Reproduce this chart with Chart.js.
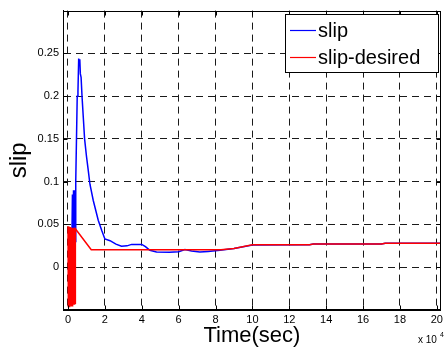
<!DOCTYPE html>
<html>
<head>
<meta charset="utf-8">
<script src="https://cdn.jsdelivr.net/npm/chart.js@4/dist/chart.umd.min.js"></script>
<style>
  html, body { margin: 0; padding: 0; background: #fff; }
  canvas { display: block; }
</style>
</head>
<body>
<canvas id="chart" width="446" height="352"></canvas>
<script>
// --- data (time in units of 1e4 sec) ---
const blueX = [0, 0.15, 0.2, 0.24, 0.27, 0.3, 0.33, 0.36, 0.39, 0.42, 0.46, 0.5, 0.54, 0.58, 0.61, 0.64, 0.67,
  0.71, 0.76, 0.83, 0.9, 1.0, 1.1, 1.19, 1.37, 1.64, 1.83, 2.0, 2.28, 2.6, 2.9, 3.2, 3.45, 4.0, 4.2, 4.44,
  4.8, 5.5, 6.0, 6.34, 6.7, 7.15, 7.6, 8.24, 9.0, 10.0, 13.1, 13.3, 17.0, 17.2, 20.2];
const blueY = [0, 0, 0.01, 0.085, 0.02, 0.09, 0.025, 0.09, 0.03, 0.1, 0.15, 0.2, 0.205, 0.244, 0.236, 0.243, 0.226,
  0.222, 0.2, 0.175, 0.15, 0.13, 0.113, 0.097, 0.078, 0.055, 0.043, 0.033, 0.031, 0.027, 0.0245, 0.025, 0.0267, 0.0267, 0.024, 0.0198,
  0.0178, 0.0175, 0.018, 0.0206, 0.019, 0.0178, 0.0185, 0.0198, 0.022, 0.026, 0.0262, 0.0272, 0.0272, 0.028, 0.028];

const redX = [0, 0.02, 0.04, 0.06, 0.08, 0.1, 0.12, 0.14, 0.16, 0.18, 0.2, 0.22, 0.24, 0.26, 0.28, 0.3, 0.32,
  0.34, 0.36, 0.38, 0.4, 1.26, 8.3, 9.0, 10.0, 13.1, 13.3, 17.0, 17.2, 20.2];
const redY = [0.048, -0.046, 0.048, -0.046, 0.047, -0.046, 0.047, -0.045, 0.047, -0.045, 0.046, -0.045, 0.046,
  -0.044, 0.046, -0.044, 0.045, -0.043, 0.045, -0.042, 0.045, 0.0205, 0.0205, 0.022, 0.0262, 0.0263, 0.0272,
  0.0272, 0.028, 0.028];

const xTicks = [0, 2, 4, 6, 8, 10, 12, 14, 16, 18, 20];
const yTicks = [0, 0.05, 0.1, 0.15, 0.2, 0.25];
const seriesNames = ["slip", "slip-desired"];
const seriesColors = ["#0000ff", "#ff0000"];

const FONT = "'Liberation Sans', Arial, Helvetica, sans-serif";

// box, inner ticks, legend and exponent label, MATLAB style
const frame = {
  id: "frame",
  afterDraw(chart) {
    const { ctx, chartArea: a, scales: { x, y } } = chart;
    const L = Math.round(a.left) + 0.5, R = Math.round(a.right) - 0.5;
    const T = Math.round(a.top) + 0.5, B = Math.round(a.bottom) - 0.5;
    ctx.save();
    ctx.strokeStyle = "#000";
    ctx.lineWidth = 1;
    ctx.strokeRect(L, T, R - L, B - T);

    ctx.beginPath();
    xTicks.forEach(v => {
      const px = Math.round(x.getPixelForValue(v)) + 0.5;
      ctx.moveTo(px, B); ctx.lineTo(px, B - 4);
      ctx.moveTo(px, T); ctx.lineTo(px, T + 4);
    });
    yTicks.forEach(v => {
      const py = Math.round(y.getPixelForValue(v)) + 0.5;
      ctx.moveTo(L, py); ctx.lineTo(L + 4, py);
      ctx.moveTo(R, py); ctx.lineTo(R - 4, py);
    });
    ctx.stroke();

    // legend
    const lx1 = 285.5, ly1 = 14.5, lx2 = 438.5, ly2 = 72.5;
    ctx.fillStyle = "#fff";
    ctx.fillRect(lx1, ly1, lx2 - lx1, ly2 - ly1);
    ctx.strokeRect(lx1, ly1, lx2 - lx1, ly2 - ly1);
    const rows = [30, 57];
    ctx.font = "20px " + FONT;
    ctx.textBaseline = "middle";
    ctx.textAlign = "left";
    seriesNames.forEach((name, i) => {
      ctx.strokeStyle = seriesColors[i];
      ctx.lineWidth = 1.2;
      ctx.beginPath();
      ctx.moveTo(290, rows[i] + 0.5);
      ctx.lineTo(316, rows[i] + 0.5);
      ctx.stroke();
      ctx.fillStyle = "#000";
      ctx.fillText(name, 318, rows[i] + 1);
    });

    // x 10^4
    ctx.fillStyle = "#000";
    ctx.textBaseline = "alphabetic";
    ctx.font = "10px " + FONT;
    ctx.fillText("x 10", 418, 343);
    ctx.font = "7px " + FONT;
    ctx.fillText("4", 440, 337);
    ctx.restore();
  }
};

const toPoints = (xs, ys) => xs.map((v, i) => ({ x: v, y: ys[i] }));

new Chart(document.getElementById("chart").getContext("2d"), {
  type: "scatter",
  data: {
    datasets: [
      {
        label: seriesNames[0],
        data: toPoints(blueX, blueY),
        showLine: true,
        borderColor: seriesColors[0],
        borderWidth: 1.5,
        pointRadius: 0,
        tension: 0,
        order: 1
      },
      {
        label: seriesNames[1],
        data: toPoints(redX, redY),
        showLine: true,
        borderColor: seriesColors[1],
        borderWidth: 1.5,
        pointRadius: 0,
        tension: 0,
        order: 0
      }
    ]
  },
  options: {
    responsive: false,
    animation: false,
    devicePixelRatio: 1,
    layout: { padding: { top: 9, right: 5, left: 0, bottom: 0 } },
    plugins: { legend: { display: false }, tooltip: { enabled: false } },
    scales: {
      x: {
        type: "linear",
        min: -0.271,
        max: 20.217,
        afterBuildTicks: s => { s.ticks = xTicks.map(v => ({ value: v })); },
        afterFit: s => { s.height = 42; },
        grid: { color: "#1a1a1a", drawTicks: false },
        border: { display: true, color: "#000", dash: [7, 5] },
        ticks: { color: "#000", font: { family: FONT, size: 11 }, padding: 3, maxRotation: 0 },
        title: { display: true, text: "Time(sec)", color: "#000", font: { family: FONT, size: 22 }, padding: { top: 0, bottom: 3 } }
      },
      y: {
        min: -0.05,
        max: 0.3,
        afterBuildTicks: s => { s.ticks = yTicks.map(v => ({ value: v })); },
        afterFit: s => { s.width = 63; },
        grid: { color: "#1a1a1a", drawTicks: false },
        border: { display: true, color: "#000", dash: [7, 5] },
        ticks: {
          color: "#000",
          font: { family: FONT, size: 11 },
          padding: 4,
          callback: v => String(+v.toFixed(2))
        },
        title: { display: true, text: "slip", color: "#000", font: { family: FONT, size: 24 }, padding: { top: 5, bottom: 0 } }
      }
    }
  },
  plugins: [frame]
});
</script>
</body>
</html>
